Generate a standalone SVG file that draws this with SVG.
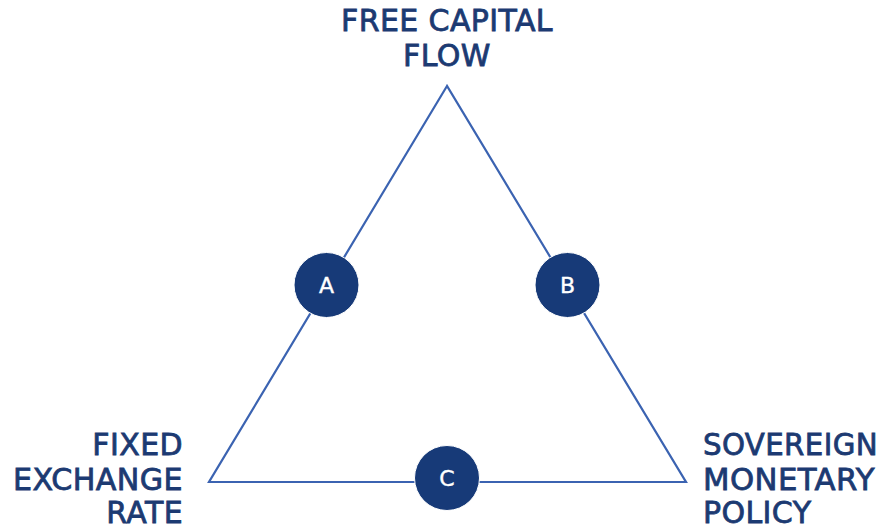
<svg xmlns="http://www.w3.org/2000/svg" width="881" height="531" viewBox="0 0 881 531">
<style>
.lbl{font-family:"DejaVu Sans","Liberation Sans",sans-serif;font-size:30px;letter-spacing:0.4px;fill:#1c3a72;stroke:#1c3a72;stroke-width:0.8}
.edge{fill:none;stroke:#3b63b1;stroke-width:2.2}
.node circle{fill:#173a78;stroke:#ffffff;stroke-width:1}
.node text{font-family:"DejaVu Sans","Liberation Sans",sans-serif;font-size:22px;fill:#ffffff;stroke:#ffffff;stroke-width:0.4;text-anchor:middle}
</style>
<rect width="881" height="531" fill="#ffffff"/>
<g id="connectors">
<path class="edge" d="M447 86 L209 482 L686 482 Z"/>
</g>
<g id="free-capital-flow">
<text class="lbl" x="447" y="31" text-anchor="middle" textLength="212" lengthAdjust="spacingAndGlyphs">FREE CAPITAL</text>
<text class="lbl" x="447" y="66" text-anchor="middle">FLOW</text>
</g>
<g id="fixed-exchange-rate">
<text class="lbl" x="183" y="455" text-anchor="end">FIXED</text>
<text class="lbl" x="183" y="490" text-anchor="end" textLength="170" lengthAdjust="spacingAndGlyphs">EXCHANGE</text>
<text class="lbl" x="183" y="523" text-anchor="end">RATE</text>
</g>
<g id="sovereign-monetary-policy">
<text class="lbl" x="703" y="455" textLength="175" lengthAdjust="spacingAndGlyphs">SOVEREIGN</text>
<text class="lbl" x="703" y="490" textLength="172" lengthAdjust="spacingAndGlyphs">MONETARY</text>
<text class="lbl" x="703" y="523">POLICY</text>
</g>
<g id="node-a" class="node">
<circle cx="326.5" cy="285" r="32.5"/>
<text x="326.5" y="293">A</text>
</g>
<g id="node-b" class="node">
<circle cx="567.5" cy="285" r="32.5"/>
<text x="567.5" y="293">B</text>
</g>
<g id="node-c" class="node">
<circle cx="447" cy="478" r="32.5"/>
<text x="447" y="486">C</text>
</g>
</svg>
